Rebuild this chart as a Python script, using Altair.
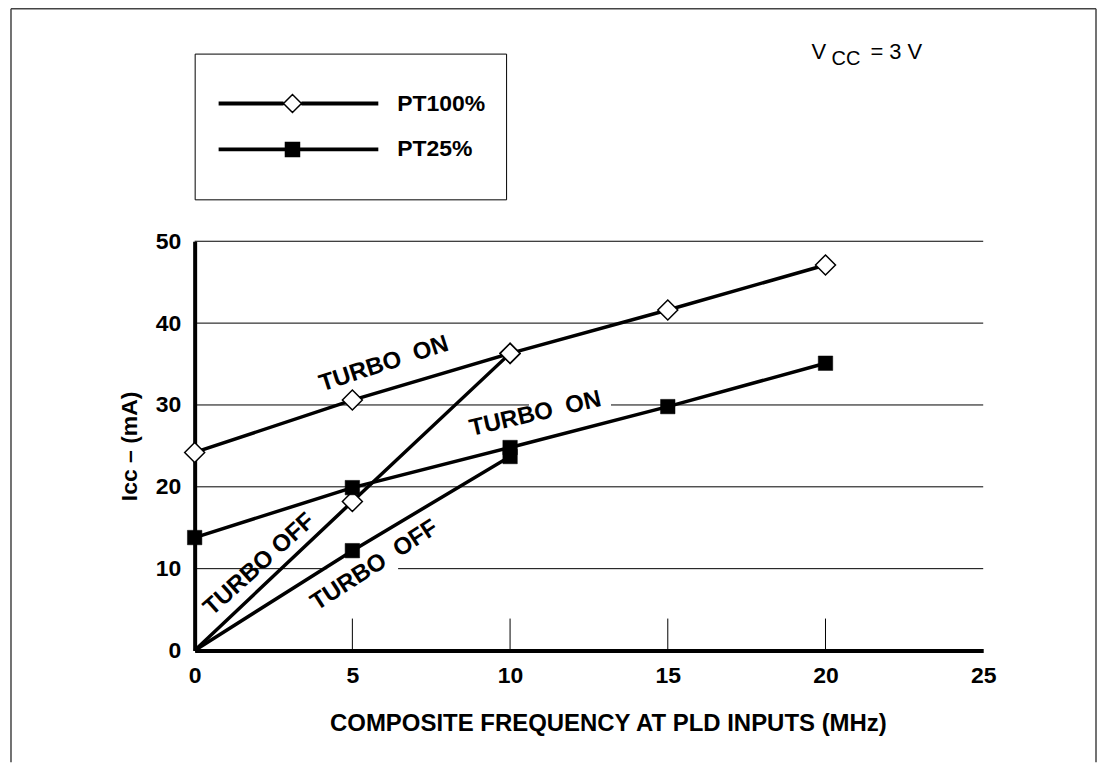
import altair as alt
import pandas as pd

# ---------------- data ----------------
freq_on = [0, 5, 10, 15, 20]
pt100_on = [24.2, 30.6, 36.3, 41.6, 47.1]
pt25_on = [13.8, 19.9, 24.8, 29.8, 35.1]

freq_off = [0, 5, 10]
pt100_off = [0, 18.2, 36.3]
pt25_off = [0, 12.2, 23.7]

series_names = ["PT100%", "PT25%"]

x_ticks = [0, 5, 10, 15, 20, 25]
y_ticks = [0, 10, 20, 30, 40, 50]
inner_ticks = [5, 10, 15, 20]

annot_text = ["TURBO\u00a0\u00a0ON", "TURBO\u00a0\u00a0ON", "TURBO OFF", "TURBO\u00a0\u00a0OFF"]
annot_x = [6.0, 10.8, 2.05, 5.7]
annot_y = [35.0, 28.9, 10.5, 10.4]
annot_angle = [342, 347, 318, 327]

grid_y = [10, 10, 20, 30, 30, 40, 50]
grid_x1 = [0, 6.45, 0, 0, 13.2, 0, 0]
grid_x2 = [4.2, 25, 25, 10.6, 25, 25, 25]

# ---------------- tables ----------------
rows = []
for name, xs_, ys_, mode in [
    ("PT100%", freq_on, pt100_on, "on"),
    ("PT25%", freq_on, pt25_on, "on"),
    ("PT100%", freq_off, pt100_off, "off"),
    ("PT25%", freq_off, pt25_off, "off"),
]:
    for xv, yv in zip(xs_, ys_):
        rows.append({"series": name, "mode": mode, "grp": name + mode, "f": xv, "i": yv})
lines_df = pd.DataFrame(rows)
marker_df = lines_df[lines_df.i > 0]
pt100_df = marker_df[marker_df.series == "PT100%"]
pt25_df = marker_df[marker_df.series == "PT25%"]
legend_df = lines_df[lines_df["mode"] == "on"]

grid_df = pd.DataFrame({"y": grid_y, "x1": grid_x1, "x2": grid_x2})
tick_df = pd.DataFrame({"x": inner_ticks})
annot_df = pd.DataFrame({"t": annot_text, "x": annot_x, "y": annot_y, "a": annot_angle})

# ---------------- style ----------------
W, H = 790, 410
FONT = "Liberation Sans"

xscale = alt.Scale(domain=[0, 25], nice=False, zero=False)
yscale = alt.Scale(domain=[0, 50], nice=False)

x_axis = alt.Axis(values=x_ticks, grid=False, ticks=False, domainWidth=4, domainColor="black",
                  labelFont=FONT, labelFontSize=23, labelFontWeight="bold", labelColor="black",
                  labelPadding=14, labelFlush=False,
                  title="COMPOSITE FREQUENCY AT PLD INPUTS (MHz)", titleFont=FONT, titleFontSize=24,
                  titleFontWeight="bold", titleColor="black",
                  titleX=414, titleY=61, titleAlign="center", titleBaseline="top")
y_axis = alt.Axis(values=y_ticks, grid=False, ticks=False, domainWidth=4, domainColor="black",
                  labelFont=FONT, labelFontSize=23, labelFontWeight="bold", labelColor="black",
                  labelPadding=14, labelFlush=False,
                  title="Icc – (mA)", titleFont=FONT, titleFontSize=23,
                  titleFontWeight="bold", titleColor="black", titlePadding=14)


def X(field):
    return alt.X(field, type="quantitative", scale=xscale, axis=x_axis)


def Y(field):
    return alt.Y(field, type="quantitative", scale=yscale, axis=y_axis)


# legend symbols: long line with marker (path units * 9 px)
L0, L1, MC = -0.833, 16.944, 7.389


def line_part(gap):
    s = ""
    for yy in (-0.13, 0, 0.13):
        if gap:
            s += f"M{L0},{yy}L{MC - 1},{yy}M{MC + 1},{yy}L{L1},{yy}"
        else:
            s += f"M{L0},{yy}L{L1},{yy}"
    return s


bounds_part = "M0,-1.333L0,-1.333M0,3L0,3"
path100 = (line_part(True) + f"M{MC - 1},0L{MC},-1L{MC + 1},0L{MC},1Z" + bounds_part)
path25 = (line_part(False) +
          f"M{MC - 0.78},-0.78L{MC + 0.78},-0.78L{MC + 0.78},0.78L{MC - 0.78},0.78Z" + bounds_part)

legend = alt.Legend(orient="none", legendX=0, legendY=-188, title=" ", titleFontSize=10,
                    titlePadding=8.5, padding=20, rowPadding=0,
                    labelOffset=160, symbolSize=324, symbolStrokeWidth=1.5, symbolOpacity=1,
                    labelFont=FONT, labelFontSize=23, labelFontWeight="bold", labelColor="black",
                    strokeColor="black", fillColor="white", direction="vertical")

# ---------------- layers ----------------
grid = alt.Chart(grid_df).mark_rule(color="black", strokeWidth=1).encode(
    x=X("x1"), x2="x2:Q", y=Y("y"))

ticks = alt.Chart(tick_df).mark_rule(color="black", strokeWidth=1).encode(
    x=X("x"), y=alt.value(H), y2=alt.value(H - 32))

annots = alt.Chart(annot_df).mark_text(font=FONT, fontSize=24, fontWeight="bold", color="black",
                                      align="center", baseline="middle").encode(
    x=X("x"), y=Y("y"), text="t:N", angle=alt.Angle("a:Q", scale=None))

lines = alt.Chart(lines_df).mark_line(color="black", strokeWidth=3.5).encode(
    x=X("f"), y=Y("i"), detail="grp:N", order="f:Q")

pts100 = alt.Chart(pt100_df).mark_point(shape="diamond", size=400, filled=True, fill="white",
                                        stroke="black", strokeWidth=1.5, opacity=1).encode(
    x=X("f"), y=Y("i"))

pts25 = alt.Chart(pt25_df).mark_point(shape="square", size=210, filled=True, fill="black",
                                      stroke="black", strokeWidth=0.5, opacity=1).encode(
    x=X("f"), y=Y("i"))

leg = alt.Chart(legend_df).mark_point(filled=True, opacity=0, stroke="black", strokeWidth=1.5).encode(
    x=X("f"), y=Y("i"),
    shape=alt.Shape("series:N", scale=alt.Scale(domain=series_names, range=[path100, path25]), legend=legend),
    fill=alt.Fill("series:N", scale=alt.Scale(domain=series_names, range=["white", "black"]), legend=legend),
)

one = alt.Data(values=[{}])
vcc_v = alt.Chart(one).mark_text(text="V", font=FONT, fontSize=22, color="black", align="left",
                                 baseline="alphabetic").encode(x=alt.value(618), y=alt.value(-183))
vcc_cc = alt.Chart(one).mark_text(text="CC", font=FONT, fontSize=20, color="black", align="left",
                                  baseline="alphabetic").encode(x=alt.value(638), y=alt.value(-177))
vcc_rest = alt.Chart(one).mark_text(text="= 3 V", font=FONT, fontSize=22, color="black", align="left",
                                    baseline="alphabetic").encode(x=alt.value(677), y=alt.value(-183))

frame_l = alt.Chart(one).mark_rule(color="#444444", strokeWidth=1.5).encode(
    x=alt.value(-184), y=alt.value(-233), y2=alt.value(522))
frame_t = alt.Chart(one).mark_rule(color="#444444", strokeWidth=1.5).encode(
    x=alt.value(-184), x2=alt.value(903), y=alt.value(-233))
frame_r = alt.Chart(one).mark_rule(color="#444444", strokeWidth=1.5).encode(
    x=alt.value(903), y=alt.value(-233), y2=alt.value(522))

chart = alt.layer(
    grid, ticks, annots, lines, pts100, pts25, leg, vcc_v, vcc_cc, vcc_rest, frame_l, frame_t, frame_r
).properties(
    width=W, height=H,
    autosize=alt.AutoSizeParams(type="none"),
    padding={"left": 187, "top": 233, "right": 114, "bottom": 112},
    background="white",
).configure_view(stroke=None)

chart.save("out.html", embed_options={"renderer": "svg", "actions": False})
